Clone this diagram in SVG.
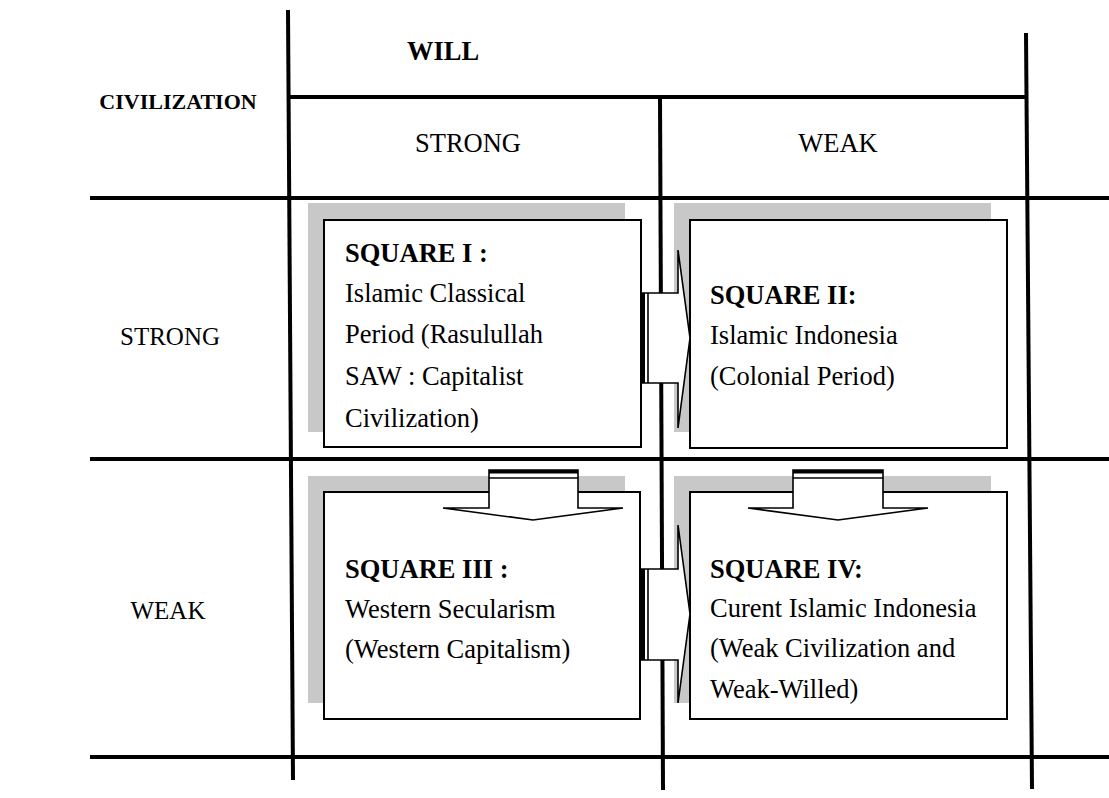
<svg xmlns="http://www.w3.org/2000/svg" width="1109" height="798" viewBox="0 0 1109 798">
<style>
text{font-family:"Liberation Serif","Times New Roman",serif;fill:#000}
.b{font-weight:bold}
.t{font-size:26.5px}
.h{font-size:22px}
.l{font-size:25px}
.grid{stroke:#000;stroke-width:4;fill:none}
.shadow{fill:#c8c8c8}
.box{fill:#fff;stroke:#000;stroke-width:2}
.arr{fill:#fff;stroke:#000;stroke-width:1.6;stroke-linejoin:miter}
.thin{stroke:#000;stroke-width:1.6}
</style>
<rect width="1109" height="798" fill="#fff"/>
<g id="grid" class="grid">
<line x1="288" y1="10" x2="293" y2="780"/>
<line x1="660" y1="97" x2="663" y2="790"/>
<line x1="1026" y1="33" x2="1032" y2="789"/>
<line x1="288" y1="97" x2="1028" y2="97"/>
<line x1="90" y1="198" x2="1109" y2="198"/>
<line x1="90" y1="459" x2="1109" y2="459"/>
<line x1="90" y1="757" x2="1109" y2="757"/>
</g>
<g id="headers">
<text class="b t" x="443" y="60" text-anchor="middle">WILL</text>
<text class="b h" x="178" y="109" text-anchor="middle">CIVILIZATION</text>
<text class="t" x="468" y="152" text-anchor="middle">STRONG</text>
<text class="t" x="838" y="152" text-anchor="middle">WEAK</text>
<text class="l" x="170" y="345" text-anchor="middle">STRONG</text>
<text class="l" x="168" y="619" text-anchor="middle">WEAK</text>
</g>
<g id="square1">
<rect class="shadow" x="308" y="203" width="317" height="229"/>
<rect class="box" x="324" y="220" width="317" height="227"/>
<text class="t" x="345"><tspan class="b" y="262">SQUARE I :</tspan><tspan x="345" y="302">Islamic Classical</tspan><tspan x="345" y="343">Period (Rasulullah</tspan><tspan x="345" y="385">SAW : Capitalist</tspan><tspan x="345" y="427">Civilization)</tspan></text>
</g>
<g id="square2">
<rect class="shadow" x="674" y="203" width="317" height="229"/>
<rect class="box" x="690" y="220" width="317" height="228"/>
<text class="t" x="710"><tspan class="b" y="304">SQUARE II:</tspan><tspan x="710" y="344">Islamic Indonesia</tspan><tspan x="710" y="385">(Colonial Period)</tspan></text>
</g>
<g id="square3">
<rect class="shadow" x="308" y="476" width="317" height="227"/>
<rect class="box" x="324" y="492" width="316" height="227"/>
<text class="t" x="345"><tspan class="b" y="578">SQUARE III :</tspan><tspan x="345" y="618">Western Secularism</tspan><tspan x="345" y="658">(Western Capitalism)</tspan></text>
</g>
<g id="square4">
<rect class="shadow" x="674" y="476" width="317" height="227"/>
<rect class="box" x="690" y="492" width="317" height="227"/>
<text class="t" x="710"><tspan class="b" y="578">SQUARE IV:</tspan><tspan x="710" y="617">Curent Islamic Indonesia</tspan><tspan x="710" y="657">(Weak Civilization and</tspan><tspan x="710" y="698">Weak-Willed)</tspan></text>
</g>
<g id="connectors">
<g id="arrow-1-2">
<polygon class="arr" points="641,293 678,293 678,250 690,338 678,428 678,383 641,383"/>
<rect x="641" y="293" width="4" height="90" fill="#000"/>
<line class="thin" x1="648" y1="293" x2="648" y2="383"/>
</g>
<g id="arrow-3-4">
<polygon class="arr" points="641,569 678,569 678,525 690,614 678,703 678,660 641,660"/>
<rect x="641" y="569" width="4" height="91" fill="#000"/>
<line class="thin" x1="648" y1="569" x2="648" y2="660"/>
</g>
<g id="arrow-1-3">
<polygon class="arr" points="489,470 578,470 578,508 623,508 533,520 443,508 489,508"/>
<rect x="489" y="470" width="89" height="3.5" fill="#000"/>
<line class="thin" x1="489" y1="478" x2="578" y2="478"/>
</g>
<g id="arrow-2-4">
<polygon class="arr" points="793,470 883,470 883,508 928,508 838,520 748,508 793,508"/>
<rect x="793" y="470" width="90" height="3.5" fill="#000"/>
<line class="thin" x1="793" y1="478" x2="883" y2="478"/>
</g>
</g>
</svg>
